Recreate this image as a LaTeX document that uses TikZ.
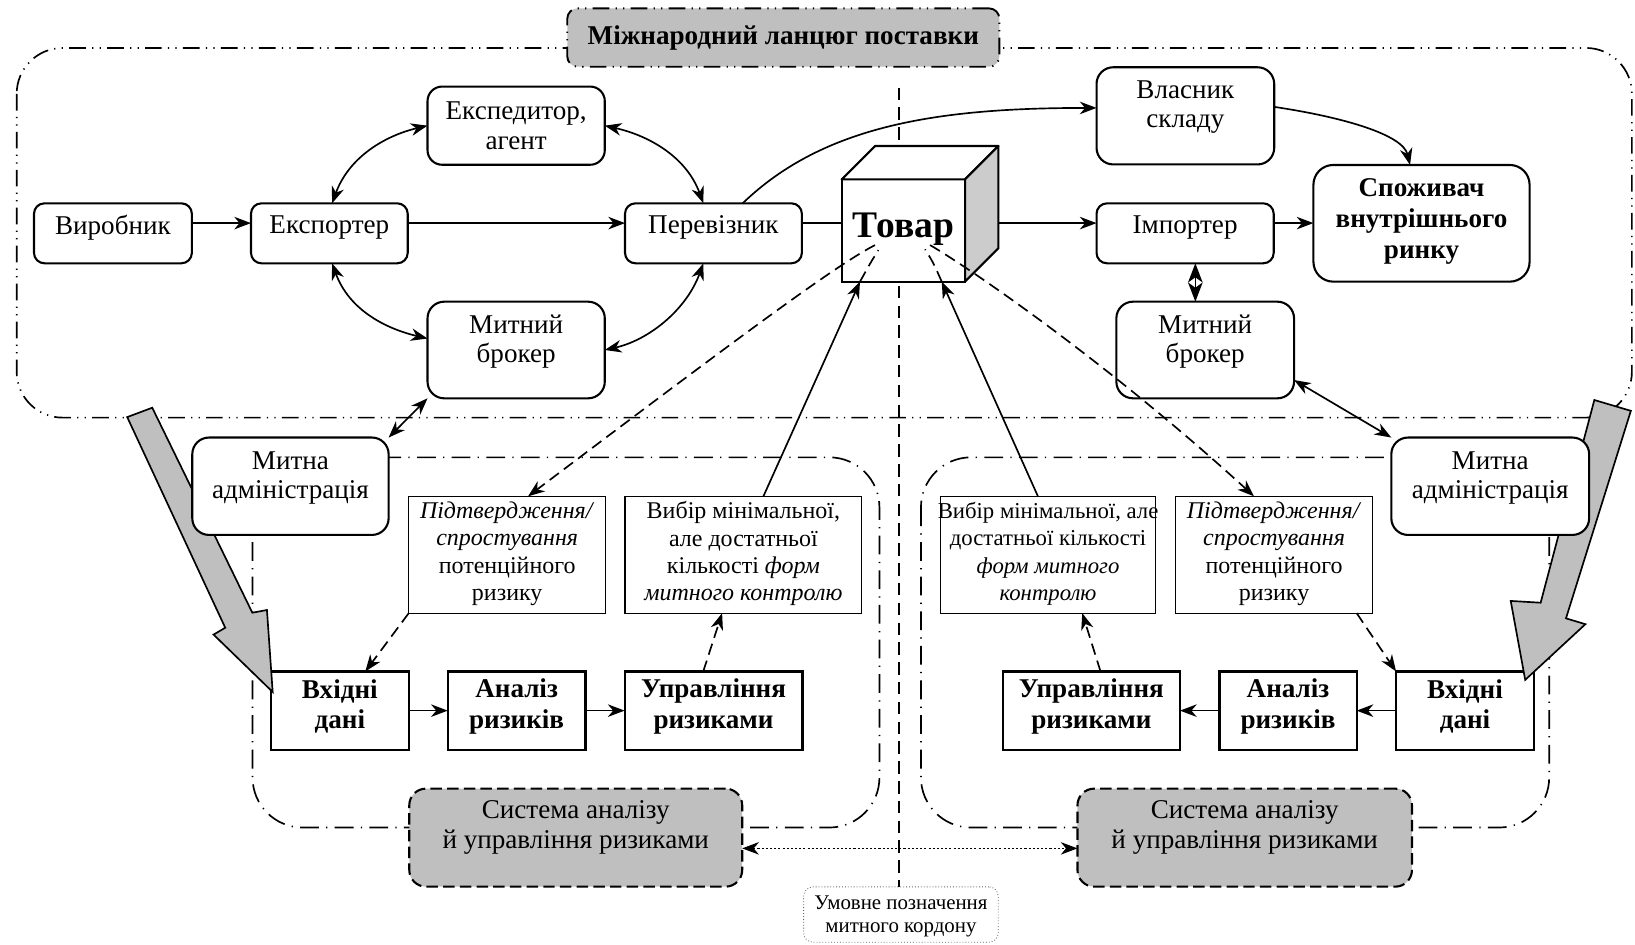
\documentclass[tikz,border=0pt]{standalone}
\usepackage{fontspec}
\setmainfont{Liberation Serif}
\usetikzlibrary{arrows.meta,fit,calc}
\newcommand\fzA{\fontsize{13}{14.2}\selectfont}
\newcommand\fzB{\fontsize{13}{14.8}\selectfont\bfseries}
\newcommand\fzC{\fontsize{11.5}{13.1}\selectfont}
\newcommand\fzCs{\fontsize{10.9}{13.1}\selectfont}
\newcommand\fzD{\fontsize{10}{11.2}\selectfont}
\newcommand\fzE{\fontsize{18}{20}\selectfont\bfseries}
\begin{document}
\begin{tikzpicture}[x=0.5pt,y=-0.5pt,
  base/.style={inner sep=0pt, outer sep=0pt},
  rb/.style={base, draw, line width=1pt, fill=white, rounded corners=#1},
  rb/.default=5pt,
  sb/.style={base, draw, line width=1pt, fill=white},
  tb/.style={base, draw, line width=0.5pt, fill=white},
  ddd/.style={dash pattern=on 8pt off 3pt on 0.6pt off 3pt on 0.6pt off 3pt},
  dd/.style={dash pattern=on 9pt off 3.5pt on 0.6pt off 3.5pt},
  dsh/.style={dash pattern=on 5.5pt off 3pt},
  sysb/.style={base, draw, line width=1pt, fill=black!25, rounded corners=8pt, dash pattern=on 5.5pt off 2.5pt},
  ttl/.style={base, draw, line width=0.9pt, fill=black!25, rounded corners=5pt, ddd},
  txt/.style={align=center, inner sep=0pt, font=\fzA},
  T/.style 2 args={label={[txt,yshift=#1]center:{#2}}},
  TB/.style 2 args={label={[txt,font=\fzB,yshift=#1]center:{#2}}},
  TC/.style 2 args={label={[txt,font=\fzC,yshift=#1]center:{#2}}},
  TCs/.style 2 args={label={[txt,font=\fzCs,yshift=#1]center:{#2}}},
  TD/.style 2 args={label={[txt,font=\fzD,yshift=#1]center:{#2}}},
  TE/.style 2 args={label={[txt,font=\fzE,yshift=#1]center:{#2}}},
  tip/.tip={Stealth[length=8pt,width=6pt,inset=2.5pt]},
  longtip/.tip={Stealth[length=9.2pt,width=7pt,inset=2.5pt]},
  arr/.style={line width=0.8pt, -tip},
  darr/.style={line width=0.8pt, tip-tip},
  bigarrow/.style={line width=0.8pt, fill=black!25, line join=miter}
]
\useasboundingbox (0,0) rectangle (1568,906);

% frames
\draw[line width=0.8pt, ddd, rounded corners=22pt] (16,46) rectangle (1565,400.5);
\draw[line width=0.8pt, dd, rounded corners=24pt] (242.2,438.6) rectangle (843.4,793.6);
\draw[line width=0.8pt, dd, rounded corners=24pt] (883.2,438.6) rectangle (1485.7,793.6);

% legend and customs border
\node[base, draw=black!60, line width=0.4pt, densely dotted, rounded corners=4.5pt, fill=white,
      fit={(770.7,850.5)(957.3,903.6)}, TD={-1pt}{Умовне позначення\\митного кордону}] (leg) {};
\coordinate (bt) at (862,84);
\draw[line width=0.8pt, dash pattern=on 6pt off 3.5pt] (bt) -- (bt |- leg.north);

% title
\node[ttl, fit={(544,8)(958.4,64)}, TB={0pt}{Міжнародний ланцюг поставки}] (title) {};

% top row
\node[rb, fit={(32.6,195)(184,252.5)}, T={2.9pt}{Виробник}] (vyr) {};
\node[rb, fit={(240.7,195)(391,252.5)}, T={2.9pt}{Експортер}] (exp) {};
\node[rb, fit={(599.4,195)(769,252.5)}, T={2.9pt}{Перевізник}] (per) {};
\node[rb=7pt, fit={(410,83)(580,158)}, T={0pt}{Експедитор,\\агент}] (eks) {};
\node[rb=8pt, fit={(410,289.3)(580,382)}, T={4pt}{Митний\\брокер}] (bro) {};
\node[rb, fit={(1051.6,195)(1221.5,252.5)}, T={2.9pt}{Імпортер}] (imp) {};
\node[rb=8pt, fit={(1051.6,64.5)(1222,157.7)}, T={4.3pt}{Власник\\складу}] (vla) {};
\node[rb=9.5pt, fit={(1259.6,158.2)(1466.9,270.1)}, TB={1pt}{Споживач\\внутрішнього\\ринку}] (spo) {};
\node[rb=8pt, fit={(1070.6,289.3)(1241,382)}, T={4pt}{Митний\\брокер}] (bro2) {};

% cube
\node[base, draw, line width=1pt, fill=white, fit={(807.2,172)(925.5,270.1)}, TE={0.5pt}{Товар}] (tov) {};
\draw[line width=1pt, fill=white, line join=round] (tov.north west) -- ++(16pt,16pt)
  -- ([shift={(16pt,16pt)}]tov.north east) -- (tov.north east) -- cycle;
\draw[line width=1pt, fill=black!20, line join=round] (tov.north east) -- ++(16pt,16pt)
  -- ([shift={(16pt,16pt)}]tov.south east) -- (tov.south east) -- cycle;
\coordinate (tovR) at ([xshift=16pt]tov.east);

% left risk system
\node[tb, fit={(392,476)(580.8,588)}, TC={0.5pt}{\textit{Підтвердження/}\\\textit{спростування}\\потенційного\\ризику}] (pod1) {};
\node[tb, fit={(599.4,476)(826.4,588)}, TC={0.5pt}{Вибір мінімальної,\\але достатньої\\кількості \textit{форм}\\\textit{митного контролю}}] (vyb1) {};
\node[sb, fit={(259.8,644)(392,719)}, TB={2pt}{Вхідні\\дані}] (vkh1) {};
\node[sb, fit={(429.4,644)(561.5,719)}, TB={2pt}{Аналіз\\ризиків}] (ana1) {};
\node[sb, fit={(599,644)(769.6,719)}, TB={2pt}{Управління\\ризиками}] (upr1) {};
\node[sysb, fit={(392.5,756.3)(711.8,850.3)}, T={4.8pt}{Система аналізу\\й управління ризиками}] (sys1) {};

% right risk system
\node[tb, fit={(901.7,476)(1108.5,588)}, TCs={0.5pt}{Вибір мінімальної, але\\достатньої кількості\\\textit{форм митного}\\\textit{контролю}}] (vyb2) {};
\node[tb, fit={(1127.4,476)(1316.3,588)}, TC={0.5pt}{\textit{Підтвердження/}\\\textit{спростування}\\потенційного\\ризику}] (pod2) {};
\node[sb, fit={(961.7,644)(1131.6,719)}, TB={2pt}{Управління\\ризиками}] (upr2) {};
\node[sb, fit={(1169.5,644)(1301,719)}, TB={2pt}{Аналіз\\ризиків}] (ana2) {};
\node[sb, fit={(1338.9,644)(1471,719)}, TB={2pt}{Вхідні\\дані}] (vkh2) {};
\node[sysb, fit={(1033.3,756.3)(1354.1,850.3)}, T={4.8pt}{Система аналізу\\й управління ризиками}] (sys2) {};

% big gray arrows
\draw[bigarrow] (122,400) -- (146,391) -- (242,587.6) -- (256,585) -- (261.5,663.6)
  -- (204.8,608.6) -- (216,602) -- cycle;
\draw[bigarrow] (1529,383.6) -- (1564,394) -- (1501.8,593) -- (1520.4,598.6) -- (1462.7,652)
  -- (1448.8,576.3) -- (1477.5,578) -- cycle;

% customs administrations
\node[rb=8pt, fit={(184.4,419.6)(372.7,513)}, T={3.9pt}{Митна\\адміністрація}] (adm) {};
\node[rb=8pt, fit={(1334.3,419.6)(1524,513)}, T={3.9pt}{Митна\\адміністрація}] (adm2) {};

% top-row connectors
\draw[arr] ([yshift=4.9pt]vyr.east) -- ([yshift=4.9pt]exp.west);
\draw[arr] ([yshift=4.9pt]exp.east) -- ([yshift=4.9pt]per.west);
\coordinate (p1) at ([yshift=4.9pt]per.east);
\draw[line width=0.8pt] (p1) -- (p1 -| tov.west);
\coordinate (r1) at ([yshift=4.9pt]imp.west);
\draw[arr] (tovR |- r1) -- (r1);
\coordinate (r2) at ([yshift=4.9pt]imp.east);
\draw[arr] (r2) -- (r2 -| spo.west);
\draw[arr] ([xshift=14pt]per.north) .. controls +(77.7,-75) and +(-151.6,0) .. ([yshift=3.8pt]vla.west);
\draw[arr] ([yshift=4.3pt]vla.east) .. controls +(67,10) and +(-7,-29) .. ([xshift=-5.5pt]spo.north);
\draw[darr] ([xshift=1.3pt]exp.north) .. controls +(16.5,-45) and +(-40,9.5) .. (eks.west);
\draw[darr] (eks.east) .. controls +(42,9.5) and +(-16.6,-45) .. ([xshift=-4.8pt]per.north);
\draw[darr] ([xshift=1.3pt]exp.south) .. controls +(16.5,45) and +(-40,-9.5) .. ([yshift=5.5pt]bro.west);
\draw[darr] ([xshift=-4.8pt]per.south) .. controls +(-16.6,45) and +(42,-9.5) .. (bro.east);
\coordinate (i1) at ([xshift=4.9pt]imp.south);
\draw[line width=0.8pt, longtip-longtip] (i1) -- (i1 |- bro2.north);
\draw[darr] (bro.south west) -- (adm.north east);
\draw[darr] ([yshift=-14.4pt]bro2.east) -- (adm2.north west);

% links between goods and the risk systems
\draw[arr, dsh] ([shift={(-13.6pt,-7pt)}]tov.center) .. controls +(-39.2,20) and +(193.5,-146) .. ([xshift=10pt]pod1.north);
\draw[arr, dsh] ([shift={(12.8pt,-7pt)}]tov.center) .. controls +(33,19) and +(-143.3,-131) .. ([xshift=-9.6pt]pod2.north);
\draw[arr] ([xshift=9.6pt]vyb1.north) -- ([xshift=-20.8pt]tov.south);
\draw[line width=0.8pt, dsh] ([xshift=-20.8pt]tov.south) .. controls +(10,-18) .. ([shift={(-12pt,-9.4pt)}]tov.center);
\draw[arr] ([xshift=-4.85pt]vyb2.north) -- ([xshift=18.4pt]tov.south);
\draw[line width=0.8pt, dsh] ([xshift=18.4pt]tov.south) .. controls +(-8,-18) .. ([shift={(10.4pt,-9pt)}]tov.center);

% inside the risk systems
\draw[arr, dsh] (pod1.south west) -- ([xshift=12.2pt]vkh1.north);
\draw[arr, dsh] ([xshift=-4.95pt]upr1.north) -- ([xshift=-10.2pt]vyb1.south);
\draw[arr] (vkh1) -- (ana1);
\draw[arr] (ana1) -- (upr1);
\draw[arr, dsh] ([xshift=39.6pt]pod2.south) -- (vkh2.north west);
\draw[arr, dsh] ([xshift=4.4pt]upr2.north) -- ([xshift=16.4pt]vyb2.south);
\draw[arr] (vkh2) -- (ana2);
\draw[arr] (ana2) -- (upr2);

% link between the two systems
\draw[line width=0.45pt, dash pattern=on 1pt off 1pt, tip-tip] ([yshift=-5.15pt]sys1.east) -- ([yshift=-5.15pt]sys2.west);
\end{tikzpicture}
\end{document}
